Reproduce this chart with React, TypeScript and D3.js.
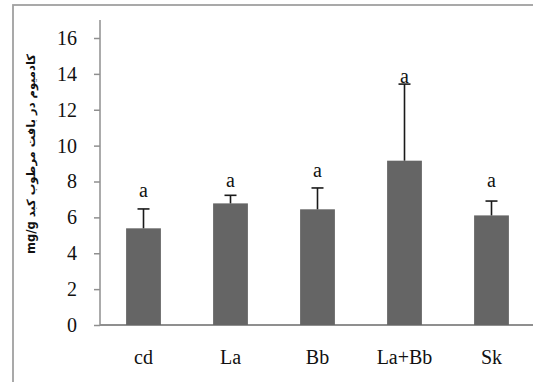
import * as d3 from "d3";
import { useRef, useEffect } from "react";

const categories = ["cd", "La", "Bb", "La+Bb", "Sk"];
const means = [5.39, 6.78, 6.45, 9.16, 6.11];
const errors = [1.08, 0.45, 1.19, 4.27, 0.8];
const letters = ["a", "a", "a", "a", "a"];
const letterY = [7.13, 7.69, 8.25, 13.49, 7.69];
const yTicks = [0, 2, 4, 6, 8, 10, 12, 14, 16];
const yTitle = "mg/g کادمیوم در بافت مرطوب کبد";

const App = () => {
  const container = useRef<SVGSVGElement>(null);

  useEffect(() => {
    drawChart();
  });

  const drawChart = () => {
    const width = 533;
    const height = 382;
    const axisColor = "#8f8f8f";
    const font = "Liberation Serif, serif";
    const fontSize = "20px";

    const svg = d3.select(container.current);
    svg.selectAll("*").remove();

    // outer frame, cut by the picture on the right and bottom
    svg
      .append("rect")
      .attr("x", 13)
      .attr("y", 5)
      .attr("width", width)
      .attr("height", height)
      .attr("fill", "white")
      .attr("stroke", "#a0a0a0")
      .attr("stroke-width", 1.8);

    const xScale = d3
      .scaleBand()
      .domain(categories)
      .range([100, 535])
      .paddingInner(0.6)
      .paddingOuter(0.3);

    const yScale = d3.scaleLinear().domain([0, 16]).range([325, 38]);

    // y axis
    const yAxis = d3
      .axisLeft(yScale)
      .tickValues(yTicks)
      .tickSize(6)
      .tickPadding(17)
      .tickFormat(d3.format("d"));

    const yg = svg
      .append("g")
      .attr("transform", "translate(100,0)")
      .call(yAxis)
      .attr("font-family", null)
      .attr("font-size", null);
    yg.select(".domain").remove();
    yg.selectAll(".tick line").attr("stroke", axisColor).attr("stroke-width", 1.5);
    yg.selectAll(".tick text")
      .style("font-family", font)
      .style("font-size", fontSize)
      .attr("fill", "#111");

    svg
      .append("line")
      .attr("x1", 100)
      .attr("x2", 100)
      .attr("y1", 20)
      .attr("y2", yScale(0))
      .attr("stroke", axisColor)
      .attr("stroke-width", 1.5);

    svg
      .append("line")
      .attr("x1", 100)
      .attr("x2", 540)
      .attr("y1", yScale(0))
      .attr("y2", yScale(0))
      .attr("stroke", axisColor)
      .attr("stroke-width", 1.8);

    // bars
    svg
      .selectAll(".bar")
      .data(categories)
      .join("rect")
      .attr("class", "bar")
      .attr("x", (d) => xScale(d)!)
      .attr("width", xScale.bandwidth())
      .attr("y", (d, i) => yScale(means[i]))
      .attr("height", (d, i) => yScale(0) - yScale(means[i]))
      .attr("fill", "#656565");

    // error bars (upper only)
    const cx = (d: string) => xScale(d)! + xScale.bandwidth() / 2;
    svg
      .selectAll(".err")
      .data(categories)
      .join("line")
      .attr("class", "err")
      .attr("x1", cx)
      .attr("x2", cx)
      .attr("y1", (d, i) => yScale(means[i]))
      .attr("y2", (d, i) => yScale(means[i] + errors[i]))
      .attr("stroke", "#1a1a1a")
      .attr("stroke-width", 1.6);

    svg
      .selectAll(".cap")
      .data(categories)
      .join("line")
      .attr("class", "cap")
      .attr("x1", (d) => cx(d) - 6)
      .attr("x2", (d) => cx(d) + 6)
      .attr("y1", (d, i) => yScale(means[i] + errors[i]))
      .attr("y2", (d, i) => yScale(means[i] + errors[i]))
      .attr("stroke", "#1a1a1a")
      .attr("stroke-width", 1.6);

    // significance letters
    svg
      .selectAll(".letter")
      .data(categories)
      .join("text")
      .attr("class", "letter")
      .attr("x", cx)
      .attr("y", (d, i) => yScale(letterY[i]))
      .attr("text-anchor", "middle")
      .style("font-family", font)
      .style("font-size", fontSize)
      .attr("fill", "#111")
      .text((d, i) => letters[i]);

    // category labels
    svg
      .selectAll(".xlabel")
      .data(categories)
      .join("text")
      .attr("class", "xlabel")
      .attr("x", cx)
      .attr("y", 364)
      .attr("text-anchor", "middle")
      .style("font-family", font)
      .style("font-size", fontSize)
      .attr("fill", "#111")
      .text((d) => d);

    // y title
    svg
      .append("text")
      .attr("transform", "translate(35,154) rotate(-90)")
      .attr("text-anchor", "middle")
      .style("font-family", "DejaVu Sans, sans-serif")
      .style("font-weight", "bold")
      .style("font-size", "11.5px")
      .attr("fill", "#111")
      .text(yTitle);
  };

  return (
    <svg
      ref={container}
      width={533}
      height={382}
      style={{ position: "absolute", left: 0, top: 0, background: "white" }}
    ></svg>
  );
};

export default App;
